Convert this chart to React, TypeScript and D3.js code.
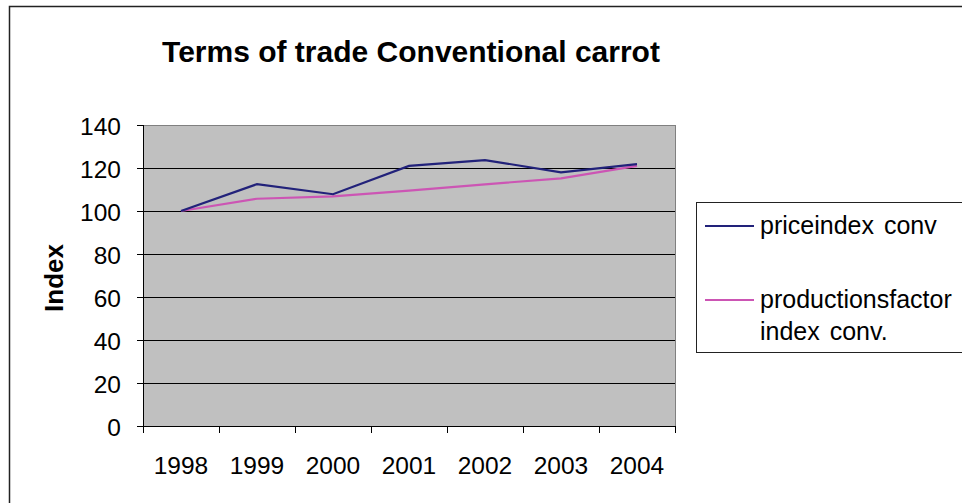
import React from "react";
import * as d3 from "d3";

const years = ["1998", "1999", "2000", "2001", "2002", "2003", "2004"];
const priceIndex = [100, 112.5, 107.8, 121, 123.7, 118, 121.8];
const productionIndex = [100, 105.7, 106.8, 109.5, 112.4, 115.2, 121];
const yTicks = [0, 20, 40, 60, 80, 100, 120, 140];
const seriesNames = ["priceindex conv", "productionsfactor|index conv."];

export default function App() {
  const W = 962, H = 503;
  const left = 143, right = 675, top = 125, bottom = 426;
  const x = d3.scaleBand<string>().domain(years).range([left, right]);
  const y = d3.scaleLinear().domain([0, 140]).range([bottom, top]);
  const line = d3
    .line<number>()
    .x((_, i) => (x(years[i]) as number) + x.bandwidth() / 2)
    .y((d) => y(d));
  const colors = ["#22227a", "#cc55b4"];
  const font = "Arial, 'Liberation Sans', sans-serif";
  return (
    <svg width={W} height={H} style={{ position: "absolute", left: 0, top: 0 }} fontFamily={font}>
      <rect x={0} y={0} width={W} height={H} fill="#fff" />
      <rect x={9.5} y={6.5} width={W + 20} height={H + 20} fill="none" stroke="#222" strokeWidth={1.5} />
      <text x={411} y={62} textAnchor="middle" fontSize={30} fontWeight="bold">
        Terms of trade Conventional carrot
      </text>
      <rect x={left} y={top} width={right - left} height={bottom - top} fill="#c0c0c0" stroke="#808080" shapeRendering="crispEdges" />
      {yTicks.map((t) => (
        <g key={t}>
          {t > 0 && t < 140 && (
            <line x1={left} x2={right} y1={y(t)} y2={y(t)} stroke="#000" strokeWidth={1} shapeRendering="crispEdges" />
          )}
          <line x1={left - 6} x2={left} y1={y(t)} y2={y(t)} stroke="#000" shapeRendering="crispEdges" />
          <text x={121} y={y(t) + 10} textAnchor="end" fontSize={24.5}>
            {t}
          </text>
        </g>
      ))}
      <line x1={left} x2={left} y1={top} y2={bottom} stroke="#000" shapeRendering="crispEdges" />
      <line x1={left} x2={right} y1={bottom} y2={bottom} stroke="#000" shapeRendering="crispEdges" />
      {d3.range(years.length + 1).map((i) => {
        const xx = left + i * x.bandwidth();
        return <line key={i} x1={xx} x2={xx} y1={bottom} y2={bottom + 7} stroke="#000" shapeRendering="crispEdges" />;
      })}
      {years.map((yr) => (
        <text key={yr} x={(x(yr) as number) + x.bandwidth() / 2} y={474} textAnchor="middle" fontSize={24.5}>
          {yr}
        </text>
      ))}
      <text transform={`translate(63,278) rotate(-90)`} textAnchor="middle" fontSize={26} fontWeight="bold">
        Index
      </text>
      <path d={line(productionIndex) || ""} fill="none" stroke={colors[1]} strokeWidth={2.2} />
      <path d={line(priceIndex) || ""} fill="none" stroke={colors[0]} strokeWidth={2.2} />
      <rect x={696.5} y={202.5} width={300} height={150} fill="#fff" stroke="#222" />
      {seriesNames.map((name, i) => {
        const ly = i === 0 ? 226 : 300;
        const parts = name.split("|");
        return (
          <g key={name}>
            <line x1={705} x2={754} y1={ly} y2={ly} stroke={colors[i]} strokeWidth={2} />
            {parts.map((p, j) => (
              <text key={j} x={760} y={ly + 8 + j * 32} fontSize={25} wordSpacing={3}>
                {p}
              </text>
            ))}
          </g>
        );
      })}
    </svg>
  );
}
